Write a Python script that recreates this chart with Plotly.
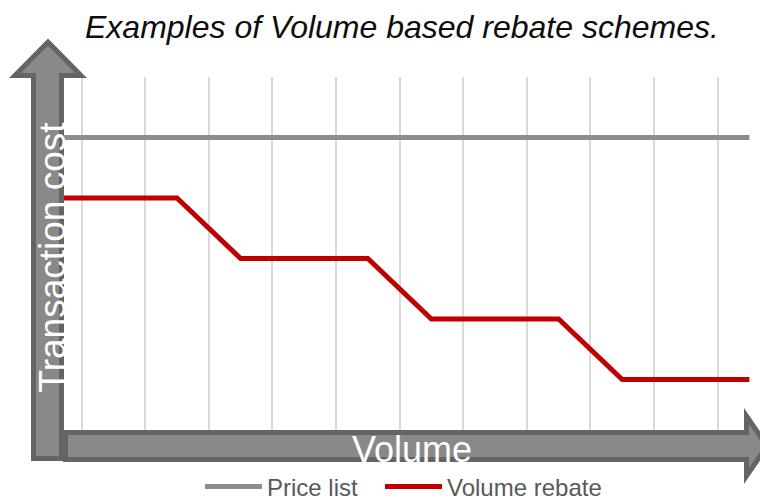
import plotly.graph_objects as go

# ---- data ----
volume_steps = list(range(12))
price_list = [5, 5, 5, 5, 5, 5, 5, 5, 5, 5, 5, 5]
volume_rebate = [4, 4, 4, 3, 3, 3, 2, 2, 2, 1, 1, 1]
series_names = ["Price list", "Volume rebate"]
title_text = "Examples of Volume based rebate schemes."
y_label = "Transaction cost"
x_label = "Volume"

# ---- layout geometry (target pixels; page body adds an 8px offset) ----
OFF = 8
FW, FH = 768 - OFF, 500 - OFF
L, R, T, B = 18 - OFF, 768 - OFF, 77 - OFF, 440 - OFF
W, H = R - L, B - T
FONT = "Liberation Sans, Arial, sans-serif"


def px(x, y):
    return ((x - OFF) - L) / W, (B - (y - OFF)) / H


def path(points):
    pts = [px(x, y) for x, y in points]
    return "M " + " L ".join(f"{a:.5f},{b:.5f}" for a, b in pts) + " Z"


ARROW_FILL = "#898989"
ARROW_LINE = "#646464"

v_arrow = [(33.5, 458.5), (33.5, 75.5), (15, 75.5), (48, 42), (81, 75.5),
           (61.5, 75.5), (61.5, 458.5)]
h_arrow = [(65.5, 432.5), (746.5, 432.5), (746.5, 416), (767, 446),
           (746.5, 476), (746.5, 459.5), (65.5, 459.5)]


def label_box(x0, y0, x1, y1, text, angle, size):
    a0, b0 = px(x0, y1)
    a1, b1 = px(x1, y0)
    return dict(type="rect", xref="paper", yref="paper", x0=a0, x1=a1, y0=b0, y1=b1,
                fillcolor="rgba(0,0,0,0)", line=dict(width=0), layer="above",
                label=dict(text=text, textangle=angle, textposition="middle center",
                           font=dict(size=size, color="#ffffff", family=FONT)))


def legend_at(xpix):
    return dict(orientation="h", x=px(xpix, 0)[0], xanchor="left",
                y=px(0, 487)[1], yanchor="middle",
                font=dict(size=24, color="#595959", family=FONT), itemwidth=57,
                bgcolor="rgba(0,0,0,0)")


fig = go.Figure()
fig.add_trace(go.Scatter(x=volume_steps, y=price_list, mode="lines",
                         name=series_names[0], legend="legend",
                         line=dict(color="#8c8c8c", width=5)))
fig.add_trace(go.Scatter(x=volume_steps, y=volume_rebate, mode="lines",
                         name=series_names[1], legend="legend2",
                         line=dict(color="#c00000", width=5)))

fig.update_layout(
    width=FW, height=FH,
    margin=dict(l=L, r=FW - R, t=T, b=FH - B, autoexpand=False),
    paper_bgcolor="white", plot_bgcolor="white",
    font=dict(family=FONT, color="#595959"),
    showlegend=True,
    legend=legend_at(200),
    legend2=legend_at(380),
    xaxis=dict(range=[-0.5, (R - L) / 63.6 - 0.5], tick0=-0.5, dtick=1,
               showgrid=True, gridcolor="#d9d9d9", gridwidth=1.5,
               showticklabels=False, zeroline=False, showline=False, ticks=""),
    yaxis=dict(range=[0, 6], showgrid=False, showticklabels=False,
               zeroline=False, showline=False, ticks=""),
    shapes=[
        dict(type="path", xref="paper", yref="paper", path=path(v_arrow),
             fillcolor=ARROW_FILL, line=dict(color=ARROW_LINE, width=5), layer="above"),
        dict(type="path", xref="paper", yref="paper", path=path(h_arrow),
             fillcolor=ARROW_FILL, line=dict(color=ARROW_LINE, width=5), layer="above"),
        label_box(31, 122, 65, 393, y_label, -90, 37),
        label_box(340, 430, 484, 462, x_label, 0, 36),
    ],
    annotations=[
        dict(text="<i>" + title_text + "</i>", xref="paper", yref="paper",
             x=px(402, 0)[0], y=px(0, 27)[1], xanchor="center", yanchor="middle",
             showarrow=False, font=dict(size=32, color="#0d0d0d")),
    ],
)

fig.write_html("out.html")
